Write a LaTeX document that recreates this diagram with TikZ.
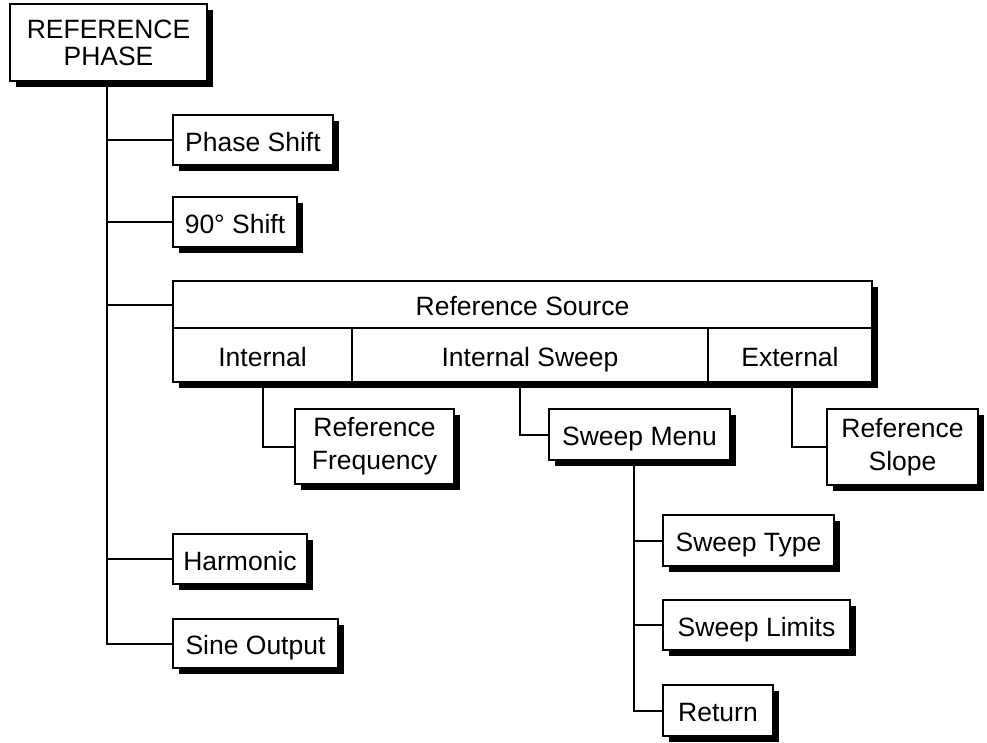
\documentclass[tikz,border=0pt]{standalone}
\usepackage{fontspec}
\setmainfont{Liberation Sans}
\usetikzlibrary{shadows}

\begin{document}
\begin{tikzpicture}
    [x=1pt, y=-1pt, line width=2pt,
     every node/.style={font=\fontsize{26.5}{33}\selectfont, align=center, inner sep=0pt},
     menubox/.style={draw, fill=white, drop shadow={fill=black, opacity=1, shadow xshift=6pt, shadow yshift=-6pt}},
     oneline/.style={text height=22pt, text depth=0pt},
     cell/.style={draw, oneline}]
    \useasboundingbox (0,0) rectangle (987,742);
    % top of the menu
    \node[menubox, font=\fontsize{26.5}{27}\selectfont, minimum width=197, minimum height=77] (refphase) at (108.5,42.5) {REFERENCE\\PHASE};
    \node[menubox, oneline, minimum width=160, minimum height=50] (phaseshift) at (253,140) {Phase Shift};
    \node[menubox, oneline, minimum width=124, minimum height=50] (ninety) at (235,222) {90° Shift};
    % reference source table
    \node[menubox, minimum width=699, minimum height=101] (src) at (522.5,331.5) {};
    \node[cell, minimum width=699, minimum height=47] (srchead) at (522.5,304.5) {Reference Source};
    \node[cell, minimum width=179, minimum height=54] (internal) at (262.5,355) {Internal};
    \node[cell, minimum width=356, minimum height=54] (isweep) at (530,355) {Internal Sweep};
    \node[cell, minimum width=164, minimum height=54] (external) at (790,355) {External};
    \node[menubox, minimum width=159, minimum height=75] (reffreq) at (374.5,446.5) {Reference\\Frequency};
    \node[menubox, oneline, minimum width=181, minimum height=51] (sweepmenu) at (639.5,434.5) {Sweep Menu};
    \node[menubox, minimum width=151, minimum height=76] (refslope) at (902.5,447) {Reference\\Slope};
    \node[menubox, oneline, minimum width=134, minimum height=50] (harmonic) at (240,559) {Harmonic};
    \node[menubox, oneline, minimum width=165, minimum height=49] (sineout) at (255.5,643.5) {Sine Output};
    % sweep submenu
    \node[menubox, oneline, minimum width=171, minimum height=51] (sweeptype) at (748.5,540.5) {Sweep Type};
    \node[menubox, oneline, minimum width=187, minimum height=50] (sweeplimits) at (756.5,625) {Sweep Limits};
    \node[menubox, oneline, minimum width=110, minimum height=51] (return) at (718,710.5) {Return};

    \foreach \n in {phaseshift,ninety,srchead,harmonic,sineout}
      \draw ([xshift=-1.5pt]refphase.south) |- (\n.west);
    \draw (internal.south) |- (reffreq.west);
    \draw ([xshift=-10pt]isweep.south) |- (sweepmenu.west);
    \draw ([xshift=2pt]external.south) |- (refslope.west);
    \foreach \n in {sweeptype,sweeplimits,return}
      \draw ([xshift=-5.5pt]sweepmenu.south) |- (\n.west);
\end{tikzpicture}
\end{document}
